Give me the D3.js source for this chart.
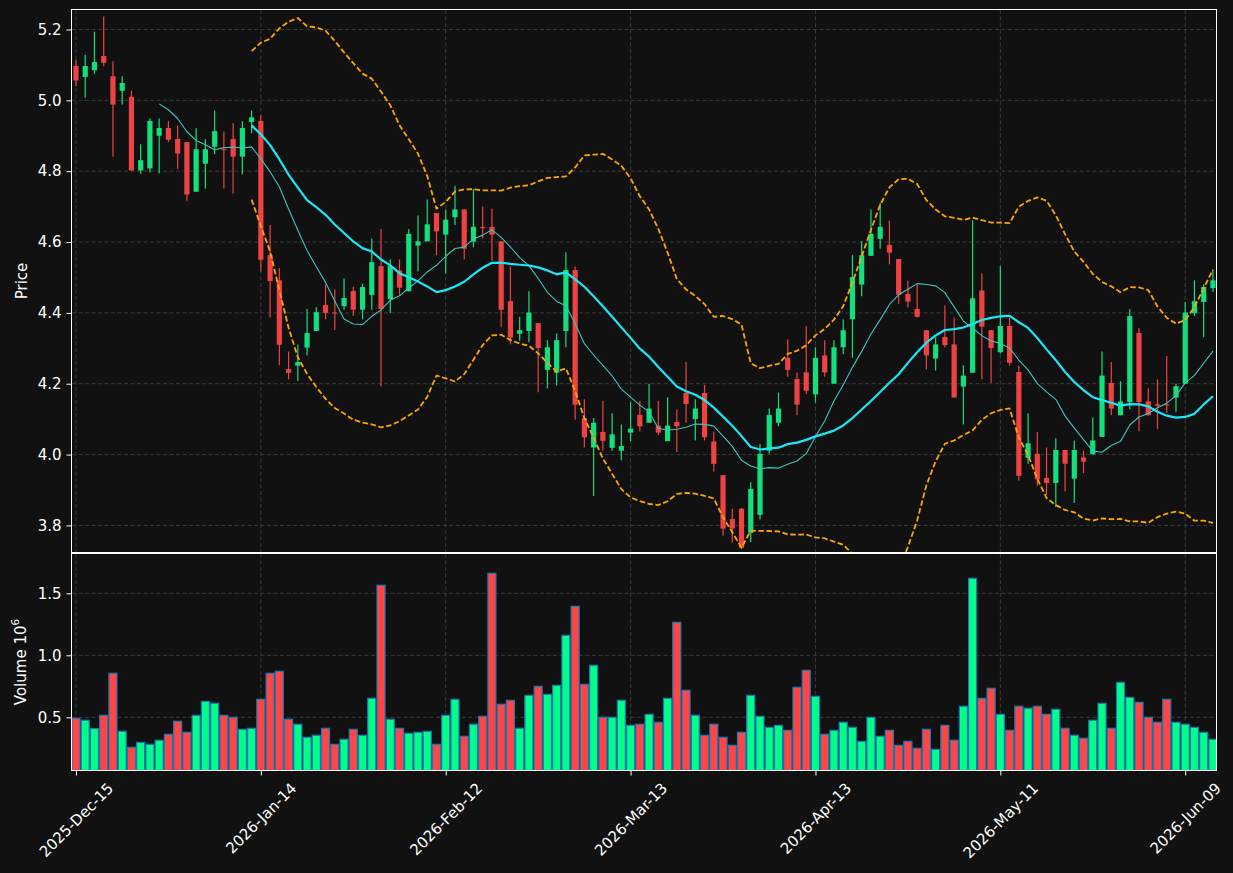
<!DOCTYPE html>
<html>
<head>
<meta charset="utf-8">
<script src="https://cdn.jsdelivr.net/npm/d3@7"></script>
<style>
  body { margin: 0; background: #111111; }
  text { font-family: "DejaVu Sans", sans-serif; }
</style>
</head>
<body>
<svg id="chart" width="1233" height="873"></svg>
<script>
// daily bars, NYSE trading days from 2025-12-15 to 2026-06-10
const open = [5.097,5.066,5.085,5.125,5.068,5.027,5.010,4.802,4.808,4.900,
  4.922,4.891,4.882,4.742,4.821,4.869,4.862,4.891,4.841,4.939,
  4.942,4.563,4.492,4.241,4.251,4.302,4.349,4.422,4.401,4.419,
  4.462,4.409,4.451,4.532,4.439,4.520,4.461,4.590,4.602,4.682,
  4.621,4.670,4.692,4.601,4.642,4.643,4.602,4.433,4.341,4.349,
  4.371,4.239,4.231,4.349,4.521,4.103,4.020,4.064,4.019,4.011,
  4.062,4.112,4.090,4.082,4.038,4.092,4.174,4.100,4.174,4.037,
  3.942,3.818,3.847,3.779,3.830,4.011,4.090,4.273,4.213,4.232,
  4.170,4.280,4.200,4.303,4.382,4.480,4.561,4.609,4.592,4.552,
  4.453,4.411,4.351,4.271,4.332,4.311,4.192,4.231,4.463,4.351,
  4.289,4.363,4.233,3.991,4.002,3.934,3.920,4.013,3.932,3.992,
  4.001,4.050,4.202,4.111,4.148,4.343,4.150,4.142,4.142,4.161,
  4.200,4.399,4.431,4.470];
const high = [5.115,5.129,5.194,5.237,5.110,5.068,5.027,4.876,4.949,4.949,
  4.941,4.929,4.882,4.921,4.890,4.971,4.912,4.936,4.941,4.971,
  4.958,4.648,4.526,4.291,4.311,4.411,4.416,4.480,4.466,4.497,
  4.474,4.482,4.610,4.637,4.551,4.551,4.637,4.675,4.720,4.682,
  4.692,4.759,4.692,4.750,4.700,4.694,4.602,4.531,4.389,4.461,
  4.371,4.323,4.342,4.571,4.531,4.156,4.103,4.151,4.117,4.085,
  4.148,4.152,4.200,4.151,4.162,4.127,4.261,4.156,4.197,4.065,
  3.942,3.847,3.849,3.922,4.030,4.130,4.175,4.325,4.232,4.362,
  4.303,4.323,4.323,4.382,4.563,4.602,4.692,4.711,4.661,4.552,
  4.491,4.480,4.351,4.331,4.421,4.387,4.252,4.661,4.511,4.351,
  4.532,4.386,4.251,4.117,4.064,4.020,4.046,4.013,4.040,4.011,
  4.105,4.291,4.261,4.207,4.411,4.357,4.187,4.213,4.278,4.200,
  4.431,4.492,4.481,4.521];
const low = [5.040,5.008,5.075,5.096,4.841,4.988,4.802,4.793,4.796,4.794,
  4.882,4.807,4.715,4.742,4.751,4.848,4.751,4.737,4.791,4.907,
  4.517,4.387,4.252,4.212,4.208,4.280,4.349,4.382,4.352,4.409,
  4.391,4.382,4.409,4.193,4.400,4.451,4.461,4.517,4.602,4.563,
  4.511,4.648,4.551,4.585,4.610,4.547,4.361,4.311,4.321,4.317,
  4.176,4.187,4.195,4.303,4.098,4.020,3.883,4.011,4.011,3.984,
  4.038,4.065,4.090,4.056,4.038,4.007,4.090,4.040,4.040,3.952,
  3.771,3.751,3.734,3.753,3.817,4.002,4.080,4.220,4.112,4.170,
  4.147,4.220,4.200,4.283,4.273,4.447,4.561,4.581,4.537,4.426,
  4.415,4.387,4.241,4.237,4.303,4.161,4.085,4.231,4.213,4.202,
  4.285,4.251,3.926,3.974,3.911,3.886,3.852,3.896,3.863,3.948,
  4.001,4.050,4.111,4.111,4.128,4.066,4.111,4.072,4.117,4.121,
  4.200,4.391,4.331,4.459];
const close = [5.056,5.097,5.108,5.106,4.988,5.049,4.802,4.831,4.942,4.922,
  4.889,4.850,4.734,4.862,4.862,4.913,4.860,4.841,4.922,4.952,
  4.550,4.490,4.310,4.231,4.261,4.343,4.402,4.400,4.399,4.442,
  4.409,4.473,4.543,4.411,4.532,4.471,4.623,4.602,4.650,4.630,
  4.663,4.692,4.581,4.643,4.640,4.621,4.409,4.331,4.351,4.401,
  4.301,4.303,4.323,4.521,4.141,4.049,4.090,4.039,4.057,4.024,
  4.073,4.080,4.130,4.062,4.082,4.080,4.143,4.130,4.049,3.974,
  3.791,3.791,3.737,3.903,4.002,4.112,4.130,4.239,4.141,4.180,
  4.273,4.232,4.303,4.351,4.501,4.563,4.623,4.643,4.570,4.451,
  4.432,4.389,4.280,4.311,4.309,4.161,4.223,4.441,4.361,4.301,
  4.363,4.259,3.940,4.032,3.930,3.920,4.013,3.974,4.013,3.980,
  4.040,4.223,4.130,4.150,4.391,4.148,4.111,4.138,4.140,4.193,
  4.401,4.433,4.473,4.492];
// volume in millions of shares
const volume = [0.492,0.476,0.409,0.516,0.855,0.387,0.258,0.298,0.282,0.315,
  0.363,0.468,0.379,0.516,0.629,0.613,0.516,0.500,0.403,0.411,
  0.645,0.855,0.871,0.484,0.444,0.339,0.355,0.411,0.282,0.323,
  0.403,0.355,0.653,1.565,0.484,0.411,0.371,0.379,0.387,0.282,
  0.516,0.645,0.347,0.444,0.508,1.661,0.605,0.637,0.411,0.677,
  0.750,0.685,0.758,1.161,1.395,0.766,0.919,0.500,0.500,0.637,
  0.435,0.444,0.524,0.460,0.653,1.266,0.718,0.516,0.355,0.444,
  0.339,0.274,0.379,0.677,0.508,0.419,0.435,0.395,0.742,0.879,
  0.669,0.363,0.395,0.460,0.419,0.306,0.500,0.347,0.395,0.274,
  0.306,0.250,0.403,0.242,0.435,0.315,0.589,1.621,0.653,0.734,
  0.524,0.395,0.589,0.573,0.589,0.524,0.565,0.411,0.355,0.331,
  0.476,0.613,0.411,0.782,0.661,0.621,0.500,0.460,0.645,0.460,
  0.444,0.419,0.379,0.323];

const tickIdx = [0, 20, 40, 60, 80, 100, 120];
const tickLabels = ['2025-Dec-15', '2026-Jan-14', '2026-Feb-12', '2026-Mar-13',
  '2026-Apr-13', '2026-May-11', '2026-Jun-09'];
const priceTicks = [3.8, 4.0, 4.2, 4.4, 4.6, 4.8, 5.0, 5.2];
const volTicks = [0.5, 1.0, 1.5];

const colUp = '#12e07f', colDown = '#ef4343';
const volUp = '#00ff88', volDown = '#ff4646', volEdge = '#1f77b4';
const gridCol = '#3a3a3a', fg = '#ffffff';
const fs = '15px';

let svg = d3.select('#chart');
svg.append('rect').attr('width', 1233).attr('height', 873).attr('fill', '#111111');

let left = 72, right = 1216, pTop = 10, pBot = 552, vTop = 554, vBot = 770;
let n = close.length;

let x = d3.scaleLinear().domain([-0.43, n - 0.67]).range([left, right]);
let yP = d3.scaleLinear().domain([3.725, 5.255]).range([pBot, pTop]);
let yV = d3.scaleLinear().domain([0.075, 1.817]).range([vBot, vTop]);
let step = x(1) - x(0);

// moving averages + bollinger (20, 2)
function rolling(arr, w, fn) {
    return arr.map((d, i) => i < w - 1 ? null : fn(arr.slice(i - w + 1, i + 1)));
}
let ma10 = rolling(close, 10, a => d3.mean(a));
let ma20 = rolling(close, 20, a => d3.mean(a));
let sd20 = rolling(close, 20, a => {
    let m = d3.mean(a);
    return Math.sqrt(d3.mean(a, v => (v - m) * (v - m)));
});
let bbUp = ma20.map((m, i) => m == null ? null : m + 2 * sd20[i]);
let bbLo = ma20.map((m, i) => m == null ? null : m - 2 * sd20[i]);

let defs = svg.append('defs');
defs.append('clipPath').attr('id', 'clipP').append('rect')
    .attr('x', left).attr('y', pTop).attr('width', right - left).attr('height', pBot - pTop);
defs.append('clipPath').attr('id', 'clipV').append('rect')
    .attr('x', left).attr('y', vTop).attr('width', right - left).attr('height', vBot - vTop);

function grid(top, bot, yScale, ticks) {
    let g = svg.append('g').attr('stroke', gridCol).attr('stroke-width', 1)
        .attr('stroke-dasharray', '4,2.5');
    g.selectAll('.gx').data(tickIdx).enter().append('line')
        .attr('x1', d => x(d)).attr('x2', d => x(d)).attr('y1', top).attr('y2', bot);
    g.selectAll('.gy').data(ticks).enter().append('line')
        .attr('x1', left).attr('x2', right).attr('y1', d => yScale(d)).attr('y2', d => yScale(d));
}
grid(pTop, pBot, yP, priceTicks);
grid(vTop, vBot, yV, volTicks);

// candles
let gc = svg.append('g').attr('clip-path', 'url(#clipP)');
let idx = d3.range(n);
gc.selectAll('.wick').data(idx).enter().append('line')
    .attr('x1', i => x(i)).attr('x2', i => x(i))
    .attr('y1', i => yP(high[i])).attr('y2', i => yP(low[i]))
    .attr('stroke', i => close[i] >= open[i] ? colUp : colDown)
    .attr('stroke-width', 1.2);
let bw = step * 0.56;
gc.selectAll('.body').data(idx).enter().append('rect')
    .attr('x', i => x(i) - bw / 2).attr('width', bw)
    .attr('y', i => yP(Math.max(open[i], close[i])))
    .attr('height', i => Math.max(1, Math.abs(yP(open[i]) - yP(close[i]))))
    .attr('fill', i => close[i] >= open[i] ? colUp : colDown);

// indicator lines
function drawLine(vals, color, width, dash) {
    let line = d3.line().defined(i => vals[i] != null).x(i => x(i)).y(i => yP(vals[i]));
    gc.append('path').attr('d', line(idx)).attr('fill', 'none')
        .attr('stroke', color).attr('stroke-width', width)
        .attr('stroke-dasharray', dash || null)
        .attr('stroke-linejoin', 'round');
}
drawLine(bbUp, '#ffa500', 1.8, '5.5,2.6');
drawLine(bbLo, '#ffa500', 1.8, '5.5,2.6');
drawLine(ma10, '#3fc4bb', 1.1);
drawLine(ma20, '#18e8f8', 2.2);

// volume
let gv = svg.append('g').attr('clip-path', 'url(#clipV)');
gv.selectAll('.vol').data(idx).enter().append('rect')
    .attr('x', i => x(i) - step / 2 + 0.6).attr('width', step - 1.2)
    .attr('y', i => yV(volume[i])).attr('height', i => vBot + 5 - yV(volume[i]))
    .attr('fill', i => close[i] >= open[i] ? volUp : volDown)
    .attr('stroke', volEdge).attr('stroke-width', 1.2);

// frames
[[pTop, pBot], [vTop, vBot]].forEach(p => {
    svg.append('rect').attr('x', left - 0.5).attr('y', p[0] - 0.5)
        .attr('width', right - left + 1).attr('height', p[1] - p[0] + 1)
        .attr('fill', 'none').attr('stroke', fg).attr('stroke-width', 1);
});

function styleAxis(g) {
    g.select('.domain').remove();
    g.selectAll('line').attr('stroke', fg).attr('stroke-width', 1);
    g.selectAll('text').attr('fill', fg).style('font-size', fs);
}

svg.append('g').attr('transform', `translate(${left - 0.5},0)`)
    .call(d3.axisLeft(yP).tickValues(priceTicks).tickFormat(d3.format('.1f')).tickSize(5).tickPadding(5))
    .call(styleAxis);
svg.append('g').attr('transform', `translate(${left - 0.5},0)`)
    .call(d3.axisLeft(yV).tickValues(volTicks).tickFormat(d3.format('.1f')).tickSize(5).tickPadding(5))
    .call(styleAxis);

let xa = svg.append('g').attr('transform', `translate(0,${vBot + 0.5})`)
    .call(d3.axisBottom(x).tickValues(tickIdx).tickFormat((d, i) => tickLabels[i]).tickSize(5))
    .call(styleAxis);
xa.selectAll('text').each(function () {
    let t = d3.select(this);
    let L = this.getComputedTextLength();
    let half = (L + 15) * Math.SQRT1_2 / 2;
    t.attr('text-anchor', 'middle').attr('dy', null).attr('y', null)
        .attr('dominant-baseline', 'central')
        .attr('transform', `translate(0,${10 + half}) rotate(-45)`);
});

svg.append('text').attr('transform', `translate(27,${(pTop + pBot) / 2}) rotate(-90)`)
    .attr('text-anchor', 'middle').attr('fill', fg).style('font-size', fs).text('Price');
let vl = svg.append('text').attr('transform', `translate(26,${(vTop + vBot) / 2}) rotate(-90)`)
    .attr('text-anchor', 'middle').attr('fill', fg).style('font-size', fs);
vl.append('tspan').text('Volume  10');
vl.append('tspan').attr('dy', -7).style('font-size', '10.5px').text('6');
</script>
</body>
</html>
